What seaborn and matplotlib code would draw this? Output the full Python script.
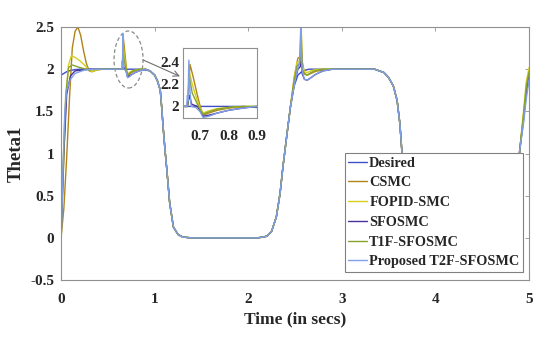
import numpy as np
import pandas as pd
import matplotlib
matplotlib.use('Agg')
import matplotlib.pyplot as plt
from matplotlib.patches import Ellipse
import seaborn as sns

# ---- data (time in s, Theta1) ----

# desired trajectory
desired_t = [0, 0.03, 0.06, 0.1, 0.15, 0.2, 0.85, 0.95, 1.0, 1.03, 1.06, 1.075, 1.09, 1.11,
             1.13, 1.16, 1.2, 1.25, 1.3, 1.4, 2.1, 2.2, 2.25, 2.3, 2.34, 2.37, 2.41, 2.45,
             2.49, 2.53, 2.58, 2.65, 3.35, 3.45, 3.5, 3.55, 3.59, 3.62, 3.64, 3.67, 3.7,
             3.74, 3.8, 3.9, 4.7, 4.75, 4.8, 4.85, 4.9, 4.94, 4.97, 5.0]
desired_y = [1.93, 1.95, 1.97, 1.985, 1.995, 2.0, 2.0, 1.98, 1.93, 1.86, 1.75, 1.55, 1.32, 1.05,
             0.81, 0.42, 0.13, 0.04, 0.01, 0.0, 0.0, 0.02, 0.08, 0.25, 0.53, 0.84, 1.2, 1.55,
             1.8, 1.93, 1.98, 2.0, 2.0, 1.96, 1.9, 1.8, 1.63, 1.35, 1.04, 0.6, 0.3,
             0.1, 0.02, 0.0, 0.0, 0.05, 0.15, 0.45, 1.04, 1.43, 1.75, 1.95]

# parts where all controllers sit on the reference
fall1_t = [0.95, 1.0, 1.03, 1.06, 1.075, 1.09, 1.11, 1.13, 1.16, 1.2, 1.25, 1.3, 1.4,
           2.1, 2.2, 2.25, 2.3, 2.34, 2.37, 2.41, 2.45]
fall1_y = [1.98, 1.93, 1.86, 1.75, 1.55, 1.32, 1.05, 0.81, 0.42, 0.13, 0.04, 0.01, 0.0,
           0.0, 0.02, 0.08, 0.25, 0.53, 0.84, 1.2, 1.55]
fall2_t = [3.0, 3.35, 3.45, 3.5, 3.55, 3.59, 3.62, 3.64, 3.67, 3.7, 3.74, 3.8, 3.9,
           4.7, 4.75, 4.8, 4.85, 4.9]
fall2_y = [2.0, 2.0, 1.96, 1.9, 1.8, 1.63, 1.35, 1.04, 0.6, 0.3, 0.1, 0.02, 0.0,
           0.0, 0.05, 0.15, 0.45, 1.04]

# CSMC
csmc_start_t = [0, 0.03, 0.06, 0.09, 0.12, 0.15, 0.18, 0.21, 0.24, 0.27, 0.3, 0.33, 0.38, 0.45, 0.6, 0.655]
csmc_start_y = [0, 0.35, 0.95, 1.65, 2.25, 2.45, 2.5, 2.4, 2.22, 2.07, 1.98, 1.97, 1.99, 2.0, 2.0, 2.0]
csmc_d1_t = [0.664, 0.675, 0.69, 0.7, 0.71, 0.73, 0.76, 0.8, 0.85, 0.9]
csmc_d1_y = [2.38, 2.27, 2.1, 2.0, 1.92, 1.94, 1.965, 1.985, 1.995, 2.0]
csmc_d2_t = [2.49, 2.53, 2.555, 2.565, 2.575, 2.6, 2.63, 2.67, 2.72, 2.8, 2.9]
csmc_d2_y = [1.9, 2.13, 2.15, 2.45, 2.1, 1.95, 1.93, 1.95, 1.975, 1.99, 2.0]
csmc_end_t = [4.94, 4.97, 5.0]
csmc_end_y = [1.45, 1.78, 1.98]

# FOPID-SMC
fopid_start_t = [0, 0.02, 0.04, 0.06, 0.08, 0.11, 0.15, 0.2, 0.25, 0.3, 0.33, 0.4, 0.6, 0.655]
fopid_start_y = [0, 0.6, 1.3, 1.75, 2.05, 2.16, 2.14, 2.1, 2.05, 1.99, 1.97, 2.0, 2.0, 2.0]
fopid_d1_t = [0.663, 0.672, 0.69, 0.7, 0.71, 0.73, 0.76, 0.8, 0.85, 0.9]
fopid_d1_y = [2.3, 2.2, 2.05, 1.98, 1.94, 1.96, 1.98, 1.99, 2.0, 2.0]
fopid_d2_t = [2.49, 2.52, 2.55, 2.565, 2.575, 2.6, 2.63, 2.67, 2.72, 2.8, 2.9]
fopid_d2_y = [1.88, 2.08, 2.1, 2.56, 2.05, 1.97, 1.96, 1.98, 1.995, 2.0, 2.0]
fopid_end_t = [4.94, 4.97, 5.0]
fopid_end_y = [1.5, 1.85, 2.02]

# SFOSMC
sfo_start_t = [0, 0.03, 0.06, 0.1, 0.15, 0.3, 0.6, 0.655]
sfo_start_y = [0, 1.0, 1.7, 1.92, 1.98, 2.0, 2.0, 2.0]
sfo_d1_t = [0.662, 0.67, 0.69, 0.7, 0.71, 0.73, 0.76, 0.8, 0.85, 0.9]
sfo_d1_y = [2.1, 2.02, 2.0, 1.96, 1.91, 1.92, 1.94, 1.965, 1.985, 2.0]
sfo_d2_t = [2.49, 2.53, 2.555, 2.565, 2.575, 2.6, 2.63, 2.67, 2.72, 2.8, 2.9]
sfo_d2_y = [1.82, 2.0, 2.03, 2.3, 1.95, 1.88, 1.87, 1.9, 1.94, 1.98, 2.0]
sfo_end_t = [4.94, 4.97, 5.0]
sfo_end_y = [1.4, 1.72, 1.9]

# T1F-SFOSMC
t1f_start_t = [0, 0.02, 0.05, 0.08, 0.12, 0.2, 0.3, 0.4, 0.6, 0.655]
t1f_start_y = [0, 0.8, 1.7, 2.02, 2.05, 2.02, 1.99, 2.0, 2.0, 2.0]
t1f_d1_t = [0.663, 0.672, 0.69, 0.7, 0.71, 0.73, 0.76, 0.8, 0.85, 0.9]
t1f_d1_y = [2.25, 2.12, 2.02, 1.97, 1.93, 1.95, 1.975, 1.99, 2.0, 2.0]
t1f_d2_t = [2.49, 2.52, 2.55, 2.565, 2.575, 2.6, 2.63, 2.67, 2.72, 2.8, 2.9]
t1f_d2_y = [1.86, 2.04, 2.07, 2.4, 2.0, 1.94, 1.93, 1.96, 1.985, 2.0, 2.0]
t1f_end_t = [4.94, 4.97, 5.0]
t1f_end_y = [1.45, 1.8, 1.97]

# Proposed T2F-SFOSMC
t2f_start_t = [0, 0.02, 0.04, 0.06, 0.1, 0.15, 0.25, 0.35, 0.6, 0.652]
t2f_start_y = [-0.08, 0.8, 1.5, 1.75, 1.88, 1.95, 1.99, 2.0, 2.0, 2.0]
t2f_d1_t = [0.655, 0.657, 0.66, 0.664, 0.668, 0.685, 0.7, 0.71, 0.73, 0.76, 0.8, 0.85, 0.9]
t2f_d1_y = [2.1, 2.05, 2.42, 2.15, 2.0, 1.99, 1.95, 1.9, 1.91, 1.94, 1.965, 1.985, 2.0]
t2f_d2_t = [2.49, 2.52, 2.55, 2.562, 2.567, 2.575, 2.6, 2.63, 2.67, 2.72, 2.8, 2.9]
t2f_d2_y = [1.8, 1.97, 2.1, 2.55, 2.2, 1.98, 1.88, 1.87, 1.9, 1.94, 1.98, 2.0]
t2f_end_t = [4.94, 4.97, 5.0]
t2f_end_y = [1.35, 1.65, 1.88]

labels = ['Desired', 'CSMC', 'FOPID-SMC', 'SFOSMC', 'T1F-SFOSMC', 'Proposed T2F-SFOSMC']
colors = ['#3f4fc4', '#b08418', '#d6cf1e', '#4b2f9a', '#86a42c', '#7f9fe6']

y_ticks = [-0.5, 0, 0.5, 1, 1.5, 2, 2.5]
y_ticklabels = ['-0.5', '0', '0.5', '1', '1.5', '2', '2.5']
x_ticks = [0, 1, 2, 3, 4, 5]


def build(start_t, start_y, d1_t, d1_y, d2_t, d2_y, end_t, end_y):
    # stitch the controller-specific pieces with the common ones
    t = start_t + d1_t + fall1_t + d2_t + fall2_t + end_t
    y = start_y + d1_y + fall1_y + d2_y + fall2_y + end_y
    return t, y


series = [(desired_t, desired_y),
          build(csmc_start_t, csmc_start_y, csmc_d1_t, csmc_d1_y, csmc_d2_t, csmc_d2_y, csmc_end_t, csmc_end_y),
          build(fopid_start_t, fopid_start_y, fopid_d1_t, fopid_d1_y, fopid_d2_t, fopid_d2_y, fopid_end_t, fopid_end_y),
          build(sfo_start_t, sfo_start_y, sfo_d1_t, sfo_d1_y, sfo_d2_t, sfo_d2_y, sfo_end_t, sfo_end_y),
          build(t1f_start_t, t1f_start_y, t1f_d1_t, t1f_d1_y, t1f_d2_t, t1f_d2_y, t1f_end_t, t1f_end_y),
          build(t2f_start_t, t2f_start_y, t2f_d1_t, t2f_d1_y, t2f_d2_t, t2f_d2_y, t2f_end_t, t2f_end_y)]

# ---- style ----
sns.set_style('white')
plt.rcParams['font.family'] = ['Liberation Serif', 'DejaVu Serif']
plt.rcParams['font.weight'] = 'bold'
plt.rcParams['axes.labelweight'] = 'bold'

fig = plt.figure(figsize=(5.5, 3.42), dpi=100)
ax = fig.add_axes([0.111, 0.181, 0.851, 0.740])

for (t, y), lab, col in zip(series, labels, colors):
    sns.lineplot(x=t, y=y, ax=ax, color=col, lw=1.0, label=lab, sort=False)

ax.set_xlim(0, 5)
ax.set_ylim(-0.5, 2.5)
ax.set_xticks(x_ticks)
ax.set_xticklabels([str(v) for v in x_ticks])
ax.set_yticks(y_ticks)
ax.set_yticklabels(y_ticklabels)
ax.tick_params(direction='in', length=3, width=0.6, color='#909090', labelsize=11,
               top=True, right=True)
ax.tick_params(axis='x', pad=9)
ax.tick_params(axis='y', pad=5)
for s in ax.spines.values():
    s.set_color('#909090')
    s.set_linewidth(0.8)
ax.set_xlabel('Time (in secs)', fontsize=12.5, labelpad=4)
ax.set_ylabel('Theta1', fontsize=13.5, labelpad=4)

leg = ax.legend(loc='lower right', bbox_to_anchor=(0.987, 0.032), borderaxespad=0,
                fontsize=10.3, handlelength=1.3, handletextpad=0.15, labelspacing=0.47,
                borderpad=0.25, fancybox=False, framealpha=1, edgecolor='#808080')
leg.get_frame().set_linewidth(0.8)

# zoom marker and connector
ax.add_patch(Ellipse((0.721, 2.115), 0.31, 0.676, fill=False, ls=(0, (3, 2)),
                     ec='#8a8a8a', lw=0.9))
ax.annotate('', xy=(1.27, 1.915), xytext=(0.876, 2.11),
            arrowprops=dict(arrowstyle='->', color='#707070', lw=0.8, shrinkA=0, shrinkB=0))

# inset
axin = fig.add_axes([0.333, 0.655, 0.1345, 0.2047])
for (t, y), col in zip(series, colors):
    sns.lineplot(x=t, y=y, ax=axin, color=col, lw=1.0, sort=False, legend=False)
axin.set_xlim(0.64, 0.9)
axin.set_ylim(1.895, 2.53)
axin.set_xticks([0.7, 0.8, 0.9])
axin.set_xticklabels(['0.7', '0.8', '0.9'])
axin.set_yticks([2, 2.2, 2.4])
axin.set_yticklabels(['2', '2.2', '2.4'])
axin.tick_params(direction='in', length=2, width=0.6, color='#909090', labelsize=11, pad=3)
axin.tick_params(axis='x', pad=9)
axin.set_xlabel('')
axin.set_ylabel('')
for s in axin.spines.values():
    s.set_color('#909090')
    s.set_linewidth(0.8)

fig.savefig('out.png', dpi=100)
